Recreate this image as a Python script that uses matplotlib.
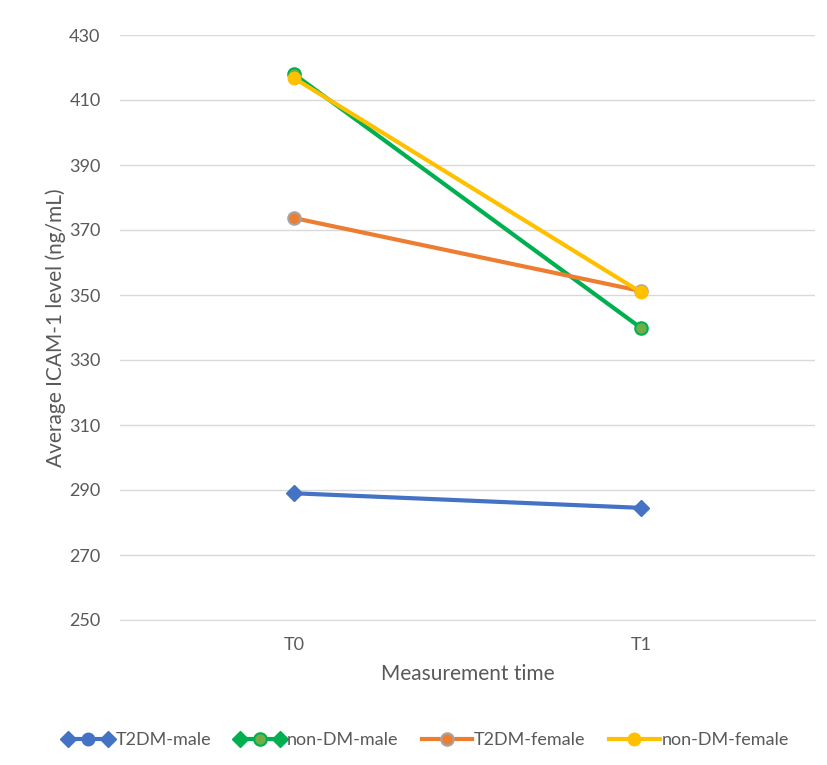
import matplotlib
matplotlib.use("Agg")
import matplotlib.pyplot as plt
from matplotlib.lines import Line2D
from matplotlib.legend_handler import HandlerLine2D, HandlerTuple

plt.rcParams['font.family'] = ['Lato', 'DejaVu Sans']

categories = ["T0", "T1"]
t2dm_male = [289.0, 284.5]
nondm_male = [418.0, 339.8]
t2dm_female = [373.7, 351.2]
nondm_female = [416.8, 350.8]
yticks = [250, 270, 290, 310, 330, 350, 370, 390, 410, 430]
labels = ["T2DM-male", "non-DM-male", "T2DM-female", "non-DM-female"]

fig = plt.figure(figsize=(8.27, 7.65), dpi=100)
ax = fig.add_axes([120/827, 1 - 620/765, (815-120)/827, (620-35)/765])

x = list(range(len(categories)))
ax.plot(x, t2dm_male, color="#4472C4", lw=3, marker="D", ms=8,
        mfc="#4472C4", mec="#4472C4", zorder=3)
ax.plot(x, nondm_male, color="#00B050", lw=3, marker="o", ms=9,
        mfc="#70AD47", mec="#00B050", mew=1.5, zorder=3)
ax.plot(x, t2dm_female, color="#ED7D31", lw=3, marker="o", ms=9,
        mfc="#ED7D31", mec="#A5A5A5", mew=1.5, zorder=3)
ax.plot(x, nondm_female, color="#FFC000", lw=3, marker="o", ms=9,
        mfc="#FFC000", mec="#FFC000", zorder=4)

ax.set_xlim(-0.5, 1.5)
ax.set_ylim(250, 430)
ax.set_yticks(yticks)
ax.set_xticks(x)
ax.set_xticklabels(categories)
ax.grid(axis="y", color="#D9D9D9", lw=1)
ax.set_axisbelow(True)
for s in ["top", "right", "left"]:
    ax.spines[s].set_visible(False)
ax.spines["bottom"].set_color("#D9D9D9")
ax.tick_params(axis="both", length=0, labelsize=13, colors="#595959")
ax.tick_params(axis="y", pad=14)
ax.tick_params(axis="x", pad=12)

ax.set_ylabel("Average ICAM-1 level (ng/mL)", fontsize=15, color="#595959", labelpad=2)
ax.set_xlabel("Measurement time", fontsize=15, color="#595959", labelpad=8)

# legend handles mimicking Excel style
bm_ends = Line2D([], [], color="#4472C4", lw=3, marker="D", ms=8, mfc="#4472C4", mec="#4472C4")
bm_mid = Line2D([], [], color="#4472C4", lw=0, marker="o", ms=9, mfc="#4472C4", mec="#4472C4")
gm_ends = Line2D([], [], color="#00B050", lw=3, marker="D", ms=8, mfc="#00B050", mec="#00B050")
gm_mid = Line2D([], [], color="#00B050", lw=0, marker="o", ms=9, mfc="#70AD47", mec="#00B050", mew=1.5)
of = Line2D([], [], color="#ED7D31", lw=3, marker="o", ms=9, mfc="#ED7D31", mec="#A5A5A5", mew=1.5)
yf = Line2D([], [], color="#FFC000", lw=3, marker="o", ms=9, mfc="#FFC000", mec="#FFC000")

hmap = {bm_ends: HandlerLine2D(numpoints=2), gm_ends: HandlerLine2D(numpoints=2),
        tuple: HandlerTuple(ndivide=1, pad=0)}
fig.legend([(bm_ends, bm_mid), (gm_ends, gm_mid), of, yf], labels,
           handler_map=hmap, numpoints=1,
           loc="center", bbox_to_anchor=(0.515, 1 - 740/765), ncol=4, frameon=False,
           fontsize=13, labelcolor="#595959", handlelength=2.8, handletextpad=0.1,
           columnspacing=1.3)

fig.savefig("out.png", dpi=100)
